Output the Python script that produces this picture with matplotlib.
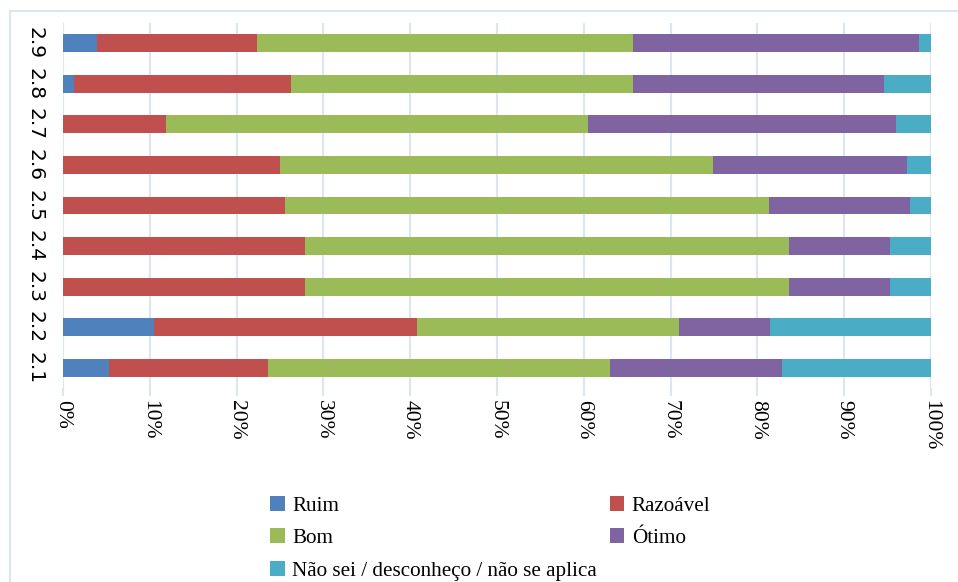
import numpy as np
import matplotlib
matplotlib.use("Agg")
import matplotlib.pyplot as plt
from matplotlib.lines import Line2D

categories = ["2.1", "2.2", "2.3", "2.4", "2.5", "2.6", "2.7", "2.8", "2.9"]
series = ["Ruim", "Razoável", "Bom", "Ótimo", "Não sei / desconheço / não se aplica"]

ruim     = [5.3, 10.5, 0.0, 0.0, 0.0, 0.0, 0.0, 1.25, 3.9]
razoavel = [18.3, 30.3, 27.9, 27.9, 25.6, 25.0, 11.9, 25.05, 18.45]
bom      = [39.4, 30.2, 55.7, 55.7, 55.7, 49.9, 48.6, 39.4, 43.35]
otimo    = [19.8, 10.5, 11.7, 11.7, 16.3, 22.3, 35.5, 28.9, 32.9]
nao_sei  = [17.2, 18.5, 4.7, 4.7, 2.4, 2.8, 4.0, 5.4, 1.4]

colors = ["#4F81BD", "#C0504D", "#9BBB59", "#8064A2", "#4BACC6"]
xticks = np.arange(0, 101, 10)

W, H = 958, 582
fig = plt.figure(figsize=(W / 100, H / 100), dpi=100)
ax = fig.add_axes([63 / W, 1 - 388 / H, (931 - 63) / W, (388 - 23) / H])

# outer chart frame (top and left edge only visible)
grid_col = "#DCE6F2"
fig.add_artist(Line2D([10 / W, 1], [1 - 11 / H, 1 - 11 / H], color=grid_col, lw=1.5))
fig.add_artist(Line2D([10 / W, 10 / W], [0, 1 - 11 / H], color=grid_col, lw=1.5))

data = [ruim, razoavel, bom, otimo, nao_sei]
y = np.arange(len(categories))
left = np.zeros(len(categories))
for name, vals, c in zip(series, data, colors):
    vals = np.array(vals)
    ax.barh(y, vals, left=left, height=0.44, color=c, label=name, zorder=3)
    left += vals

ax.set_xlim(0, 100)
ax.set_ylim(-0.5, len(categories) - 0.5)
ax.set_xticks(xticks)
ax.set_xticklabels([f"{v}%" for v in xticks], rotation=270,
                   family="Liberation Serif", fontsize=15.5)
ax.set_yticks(y)
ax.set_yticklabels(categories, rotation=270, family="DejaVu Sans",
                   fontsize=14.5, va="center")
ax.tick_params(axis="x", length=6, color=grid_col, width=1.5, pad=3)
ax.tick_params(axis="y", length=0, pad=13)
ax.grid(axis="x", color=grid_col, lw=1.5, zorder=0)
for s in ax.spines.values():
    s.set_visible(False)

handles, labels = ax.get_legend_handles_labels()
# matplotlib fills legend columns first; reorder so rows read Ruim/Razoável, Bom/Ótimo, Não sei
order = [0, 2, 4, 1, 3]
leg = fig.legend([handles[i] for i in order], [labels[i] for i in order],
                 loc="upper left", bbox_to_anchor=(251 / W, 1 - 477 / H),
                 ncol=2, frameon=False, prop={"family": "Liberation Serif", "size": 15.2},
                 handlelength=0.7, handleheight=0.7, handletextpad=0.35,
                 columnspacing=0.6, labelspacing=0.6)

fig.savefig("out.png", dpi=100)
